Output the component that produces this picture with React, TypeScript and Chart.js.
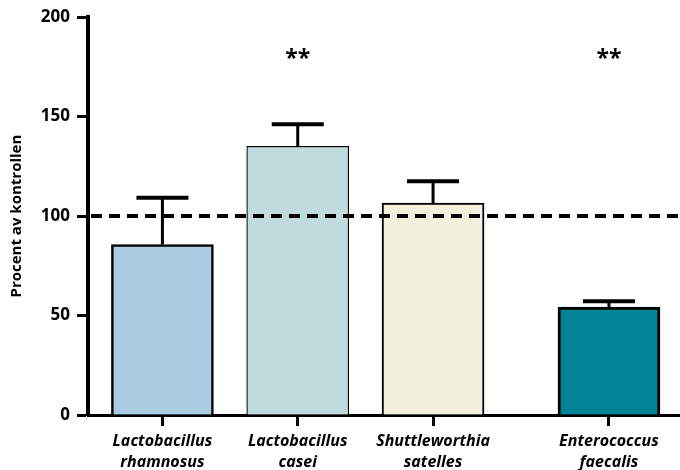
import React, { useEffect, useRef } from "react";
import { Chart, registerables } from "chart.js";

Chart.register(...registerables);

const categories: string[][] = [
  ["Lactobacillus", "rhamnosus"],
  ["Lactobacillus", "casei"],
  ["Shuttleworthia", "satelles"],
  ["Enterococcus", "faecalis"],
];
const positions = [1, 2, 3, 4.3];
const values = [85.7, 135.1, 106.5, 54.2];
const errors = [23.5, 11.1, 11.0, 3.0];
const stars = ["", "**", "", "**"];
const starLevel = 180;
const referenceLine = 100;
const yTicks = [0, 50, 100, 150, 200];

const fillColors = ["#a9cce3", "#c0dbdb", "#f4f0de", "#028496"];
const borderWidths = [2.5, 1.2, 2, 3];

const FONT = "'Open Sans', Lato, sans-serif";

const overlayPlugin = {
  id: "overlay",
  afterDatasetsDraw(chart: any) {
    const ctx = chart.ctx;
    const xs = chart.scales.x;
    const ys = chart.scales.y;
    const area = chart.chartArea;
    ctx.save();
    const yRef = ys.getPixelForValue(referenceLine);
    ctx.strokeStyle = "#000";
    ctx.lineWidth = 4;
    ctx.setLineDash([11, 7]);
    ctx.beginPath();
    ctx.moveTo(area.left + 3, yRef);
    ctx.lineTo(area.right, yRef);
    ctx.stroke();
    ctx.setLineDash([]);
    positions.forEach((p, i) => {
      const x = xs.getPixelForValue(p);
      const yb = ys.getPixelForValue(values[i]);
      const yt = ys.getPixelForValue(values[i] + errors[i]);
      ctx.lineWidth = 3;
      ctx.beginPath();
      ctx.moveTo(x, yb);
      ctx.lineTo(x, yt);
      ctx.stroke();
      ctx.lineWidth = 4;
      ctx.beginPath();
      ctx.moveTo(x - 26, yt);
      ctx.lineTo(x + 26, yt);
      ctx.stroke();
    });
    ctx.fillStyle = "#000";
    ctx.font = `bold 23px ${FONT}`;
    ctx.textAlign = "center";
    ctx.textBaseline = "middle";
    const ySt = ys.getPixelForValue(starLevel);
    stars.forEach((s, i) => {
      if (s) ctx.fillText(s, xs.getPixelForValue(positions[i]), ySt + 2);
    });
    ctx.restore();
  },
};

export default function App() {
  const ref = useRef<HTMLCanvasElement | null>(null);
  useEffect(() => {
    if (!ref.current) return;
    const chart = new Chart(ref.current, {
      type: "bar",
      data: {
        datasets: [
          {
            data: positions.map((p, i) => ({ x: p, y: values[i] })),
            backgroundColor: fillColors,
            borderColor: "#000",
            borderWidth: borderWidths,
            borderSkipped: "bottom",
            barThickness: 102,
          } as any,
        ],
      },
      options: {
        responsive: false,
        animation: false,
        devicePixelRatio: 1,
        layout: { padding: { top: 16, right: 0, left: 0, bottom: 0 } },
        plugins: { legend: { display: false }, tooltip: { enabled: false } },
        scales: {
          x: {
            type: "linear",
            offset: false,
            min: 0.45,
            max: 4.825,
            afterBuildTicks: (s: any) => {
              s.ticks = positions.map((v) => ({ value: v }));
            },
            afterFit: (s: any) => {
              s.height = 55;
            },
            grid: {
              display: true,
              offset: false,
              drawOnChartArea: false,
              drawTicks: true,
              tickLength: 11,
              tickWidth: 3,
              tickColor: "#000",
            },
            border: { display: true, color: "#000", width: 3 },
            ticks: {
              autoSkip: false,
              maxRotation: 0,
              padding: 5,
              color: "#000",
              font: { family: FONT, size: 16, weight: "bold", style: "italic", lineHeight: 1.3 },
              callback: (_v: any, i: number) => categories[i],
            },
          },
          y: {
            min: 0,
            max: 200,
            afterBuildTicks: (s: any) => {
              s.ticks = yTicks.map((v) => ({ value: v }));
            },
            afterFit: (s: any) => {
              s.width = 88;
            },
            grid: {
              display: true,
              drawOnChartArea: false,
              drawTicks: true,
              tickLength: 11,
              tickWidth: 3,
              tickColor: "#000",
            },
            border: { display: true, color: "#000", width: 4 },
            ticks: {
              padding: 7,
              color: "#000",
              font: { family: FONT, size: 17, weight: "bold" },
            },
            title: {
              display: true,
              text: "Procent av kontrollen",
              color: "#000",
              padding: { top: 8, bottom: 0 },
              font: { family: FONT, size: 15, weight: "bold" },
            },
          },
        },
      },
      plugins: [overlayPlugin],
    } as any);
    return () => chart.destroy();
  }, []);
  return (
    <div style={{ position: "absolute", left: 0, top: 0, width: 680, height: 470, background: "#fff" }}>
      <canvas ref={ref} width={680} height={470} />
    </div>
  );
}
